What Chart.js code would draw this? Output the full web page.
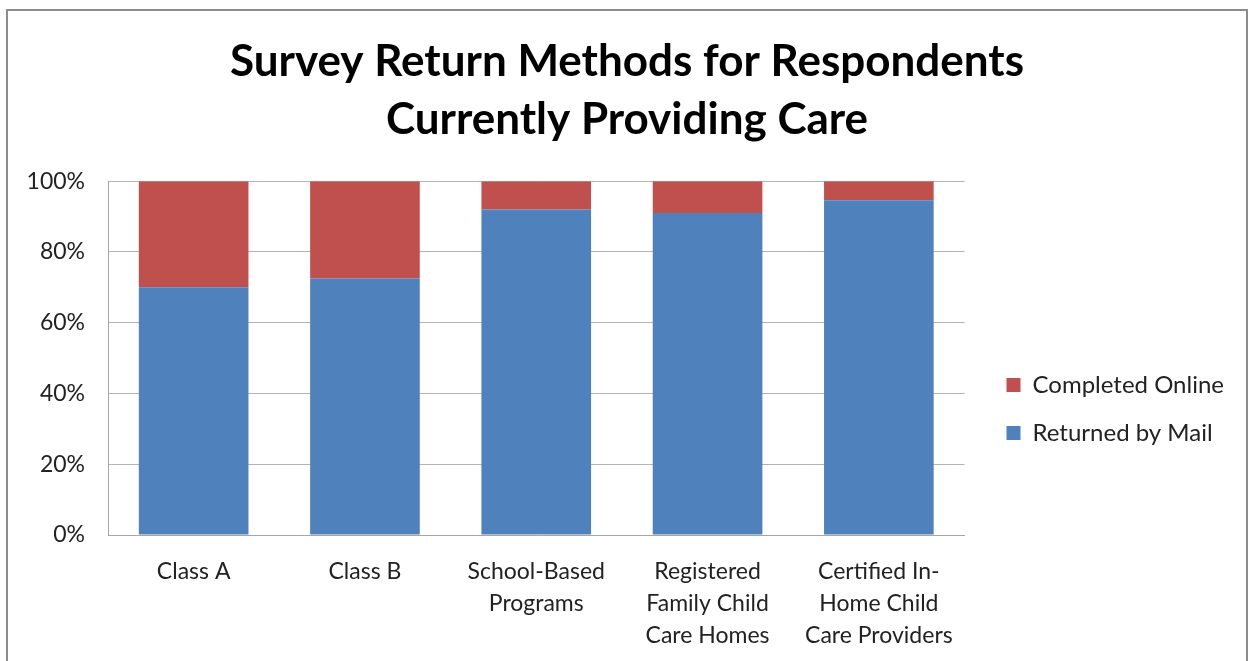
<!DOCTYPE html>
<html>
<head>
<meta charset="utf-8">
<script src="https://cdn.jsdelivr.net/npm/chart.js@4.4.1/dist/chart.umd.min.js"></script>
<style>
  html, body { margin: 0; padding: 0; background: #fff; }
  #wrap { position: absolute; left: 0; top: 0; width: 1250px; height: 661px; }
  #frame { position: absolute; left: 6px; top: 9px; width: 1242px; height: 700px; border: 2px solid #8c8c8c; box-sizing: border-box; }
</style>
</head>
<body>
<div id="wrap">
  <canvas id="c" width="1250" height="661"></canvas>
  <div id="frame"></div>
</div>
<script>
const titleLines = ["Survey Return Methods for Respondents", "Currently Providing Care"];
const categories = [
  "Class A",
  "Class B",
  ["School-Based", "Programs"],
  ["Registered", "Family Child", "Care Homes"],
  ["Certified In-", "Home Child", "Care Providers"]
];
const returnedByMail = [70.0, 72.5, 92.0, 91.0, 94.6];
const completedOnline = [30.0, 27.5, 8.0, 9.0, 5.4];
const yTicks = [0, 20, 40, 60, 80, 100];

const FONT = "Lato, 'Open Sans', sans-serif";

// nudges the built-in legend and title like the original layout
const placer = {
  id: 'placer',
  afterLayout(chart) {
    const lg = chart.legend;
    if (lg) {
      const dx = (chart.chartArea.right + 18) - lg.left;
      const dy = 62;
      lg.left += dx; lg.right += dx;
      lg.top += dy; lg.bottom += dy;
    }
    const tb = chart.titleBlock;
    if (tb) { tb.left += 19; tb.right += 19; }
  }
};

new Chart(document.getElementById('c'), {
  type: 'bar',
  data: {
    labels: categories,
    datasets: [
      { label: 'Returned by Mail', data: returnedByMail, backgroundColor: '#4F81BD', borderWidth: 0 },
      { label: 'Completed Online', data: completedOnline, backgroundColor: '#C0504D', borderWidth: 0 }
    ]
  },
  plugins: [placer],
  options: {
    responsive: false,
    animation: false,
    layout: { padding: { left: 0, right: 34, top: 33, bottom: 0 } },
    datasets: { bar: { categoryPercentage: 0.64, barPercentage: 1.0 } },
    plugins: {
      title: {
        display: true,
        text: titleLines,
        color: '#000',
        font: { family: FONT, size: 44, weight: 'bold', lineHeight: 1.32 },
        padding: { top: 0, bottom: 32 }
      },
      legend: {
        position: 'right',
        reverse: true,
        labels: {
          color: '#222',
          font: { family: FONT, size: 24 },
          boxWidth: 14,
          boxHeight: 14,
          padding: 24
        }
      },
      tooltip: { enabled: false }
    },
    scales: {
      x: {
        stacked: true,
        grid: { display: false, drawTicks: false },
        border: { display: true, color: '#a6a6a6', width: 1 },
        ticks: {
          color: '#222',
          font: { family: FONT, size: 23, lineHeight: 1.38 },
          padding: 21,
          maxRotation: 0,
          autoSkip: false
        },
        afterFit: (s) => { s.height = 126; }
      },
      y: {
        stacked: true,
        min: 0,
        max: 100,
        afterBuildTicks: (s) => { s.ticks = yTicks.map(v => ({ value: v })); },
        grid: { color: '#b3b3b3', lineWidth: 1, drawTicks: false },
        border: { display: true, color: '#a6a6a6', width: 1 },
        ticks: {
          color: '#222',
          font: { family: FONT, size: 23 },
          padding: 23,
          callback: (v) => v + '%'
        },
        afterFit: (s) => { s.width = 108; }
      }
    }
  }
});
</script>
</body>
</html>
